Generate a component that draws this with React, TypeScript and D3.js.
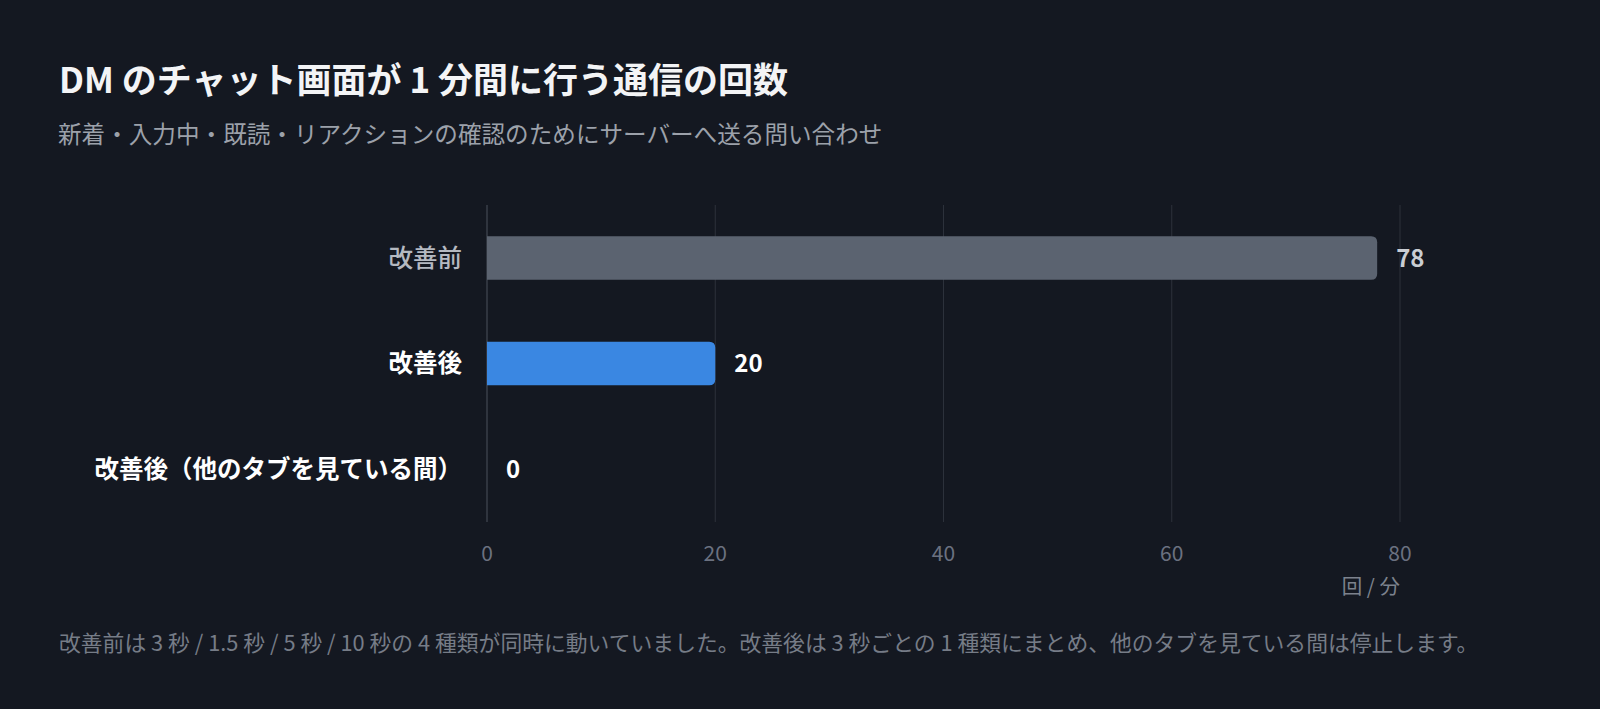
import React from "react";
import * as d3 from "d3";

const categories = ["改善前", "改善後", "改善後（他のタブを見ている間）"];
const values = [78, 20, 0];
const xTicks = [0, 20, 40, 60, 80];
const title = "DM のチャット画面が 1 分間に行う通信の回数";
const subtitle = "新着・入力中・既読・リアクションの確認のためにサーバーへ送る問い合わせ";
const unitLabel = "回 / 分";
const footnote =
  "改善前は 3 秒 / 1.5 秒 / 5 秒 / 10 秒の 4 種類が同時に動いていました。改善後は 3 秒ごとの 1 種類にまとめ、他のタブを見ている間は停止します。";

const W = 1600;
const H = 709;
const FONT = "'Noto Sans CJK JP', 'Noto Sans', sans-serif";
const BG = "#141821";

function barPath(x0: number, y: number, w: number, h: number, r: number) {
  if (w <= 0) return "";
  const rr = Math.min(r, w, h / 2);
  return `M${x0},${y}H${x0 + w - rr}Q${x0 + w},${y} ${x0 + w},${y + rr}V${y + h - rr}Q${x0 + w},${y + h} ${x0 + w - rr},${y + h}H${x0}Z`;
}

export default function App() {
  const x = d3.scaleLinear().domain([0, 80]).range([487, 1400]);
  const y = d3
    .scaleBand<string>()
    .domain(categories)
    .range([205, 522])
    .paddingInner(0.589)
    .paddingOuter(0.297);
  const bw = y.bandwidth();
  const barFill = ["#5b6370", "#3a87e2", "#3a87e2"];
  const labelFill = ["#b4b9c1", "#ffffff", "#ffffff"];
  const labelWeight = [500, 700, 700];
  const valueFill = ["#c9cdd3", "#ffffff", "#ffffff"];

  return (
    <div style={{ position: "absolute", left: 0, top: 0, width: W, height: H, background: BG }}>
      <svg width={W} height={H} style={{ display: "block" }} fontFamily={FONT}>
        <rect x={0} y={0} width={W} height={H} fill={BG} />
        <text x={59} y={92.5} fill="#f3f4f6" fontSize={35} fontWeight={700}>
          {title}
        </text>
        <text x={58} y={143} fill="#9ca1aa" fontSize={23.6}>
          {subtitle}
        </text>

        {xTicks.map((t) => (
          <g key={t}>
            <line x1={x(t)} x2={x(t)} y1={205} y2={522} stroke={t === 0 ? "#4a505c" : "#2c313b"} strokeWidth={1} />
            <text x={x(t)} y={560.5} textAnchor="middle" fill="#6b7180" fontSize={21}>
              {t}
            </text>
          </g>
        ))}
        <text x={x(80)} y={594} textAnchor="end" fill="#7c828d" fontSize={20.5}>
          {unitLabel}
        </text>

        {categories.map((c, i) => {
          const yy = y(c) as number;
          const v = values[i];
          return (
            <g key={c}>
              <path d={barPath(x(0), yy, x(v) - x(0), bw, 6)} fill={barFill[i]} />
              <text
                x={462}
                y={yy + bw / 2}
                dy="0.36em"
                textAnchor="end"
                fill={labelFill[i]}
                fontSize={24.5}
                fontWeight={labelWeight[i]}
              >
                {c}
              </text>
              <text
                x={x(v) + 19}
                y={yy + bw / 2}
                dy="0.36em"
                fill={valueFill[i]}
                fontSize={24}
                fontWeight={700}
              >
                {v}
              </text>
            </g>
          );
        })}

        <text x={59} y={651} fill="#767c87" fontSize={21.8}>
          {footnote}
        </text>
      </svg>
    </div>
  );
}
